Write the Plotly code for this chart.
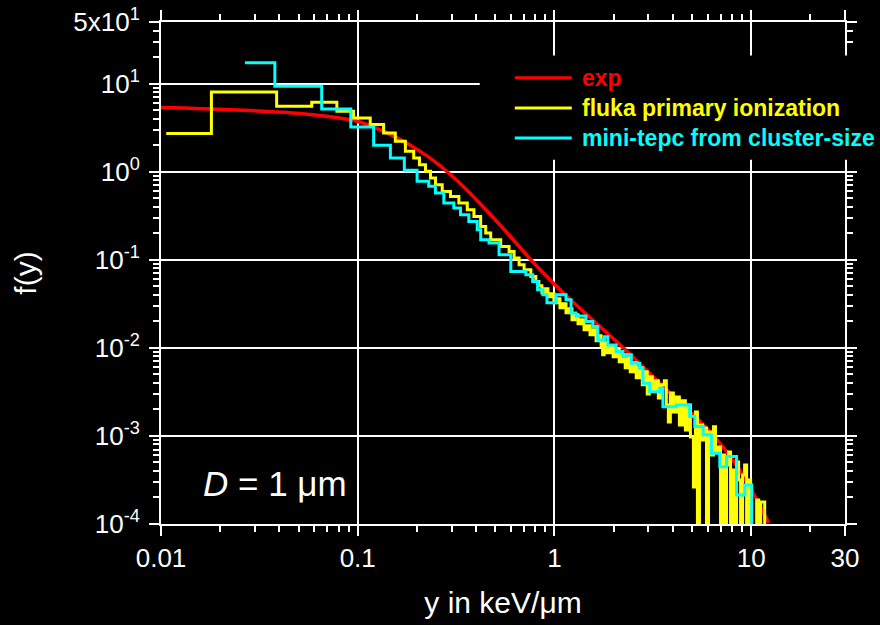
import math
import plotly.graph_objects as go

# ---- measured microdosimetric spectrum (smooth experimental curve) ----
exp_y = [0.01, 0.02236, 0.0509, 0.0994, 0.1354, 0.1647, 0.2012, 0.2428, 0.2861, 0.3620,
         0.4632, 0.5929, 0.7588, 0.994, 1.303, 1.707, 2.236, 3.219, 4.42, 6.07, 8.74, 12.29]
exp_f = [5.34, 5.06, 4.56, 3.73, 2.87, 2.310, 1.778, 1.334, 0.99, 0.608,
         0.342, 0.1874, 0.1, 0.0534, 0.030, 0.01733, 0.01, 0.00456, 0.00231, 0.00117, 0.000411, 0.000103]

# ---- FLUKA primary ionization histogram: left bin edges and bin contents ----
fluka_edges = [
    0.01063, 0.01804, 0.03871, 0.05838, 0.07833, 0.0952, 0.1158, 0.1354, 0.1553, 0.1747,
    0.1926, 0.206, 0.2211, 0.2344, 0.2486, 0.2689, 0.2963, 0.3268, 0.3606, 0.3898,
    0.4217, 0.4473, 0.4742, 0.5333, 0.5879, 0.6235, 0.6612, 0.7012, 0.7588, 0.8045,
    0.8334, 0.8634, 0.8944, 0.9265, 0.9596, 0.994, 1.030, 1.067, 1.105, 1.145,
    1.186, 1.228, 1.272, 1.318, 1.365, 1.414, 1.465, 1.517, 1.572, 1.628,
    1.687, 1.727, 1.758, 1.789, 1.853, 1.919, 1.988, 2.060, 2.134, 2.211,
    2.290, 2.344, 2.428, 2.515, 2.605, 2.699, 2.796, 2.862, 2.964, 3.035,
    3.144, 3.257, 3.374, 3.495, 3.620, 3.706, 3.794, 3.884, 4.023, 4.168,
    4.317, 4.472, 4.632, 4.798, 4.913, 5.089, 5.210, 5.333, 5.461, 5.657,
    5.791, 5.929, 6.070, 6.288, 6.437, 6.590, 6.827, 6.989, 7.156, 7.326,
    7.499, 7.678, 7.860, 8.047, 8.238, 8.433, 8.634, 8.839, 9.049, 9.265,
    9.484, 9.710, 9.940, 10.67, 10.92, 11.18, 11.72,
]
fluka_f = [
    2.703, 8.048, 5.521, 6.132, 4.844, 4.076, 3.421, 2.753, 2.210, 1.701,
    1.431, 1.201, 1.008, 0.848, 0.7115, 0.5972, 0.5239, 0.4408, 0.370, 0.3105,
    0.239, 0.2011, 0.1688, 0.1416, 0.1243, 0.1045, 0.0877, 0.077, 0.0646, 0.0567,
    0.0506, 0.0422, 0.0468, 0.0380, 0.0411, 0.0325, 0.0360, 0.0285, 0.0316, 0.0250,
    0.0277, 0.0208, 0.0237, 0.01874, 0.0208, 0.0160, 0.01778, 0.0141, 0.0160, 0.0120,
    0.0137, 0.01054, 0.00833, 0.0114, 0.00877, 0.01026, 0.0079, 0.00949, 0.00693, 0.00833,
    0.00593, 0.0077, 0.00534, 0.00675, 0.00456, 0.00593, 0.0038, 0.00534, 0.0030, 0.00468,
    0.00333, 0.00422, 0.0027, 0.0038, 0.00422, 0.00225, 0.00144, 0.00308, 0.00187, 0.00277,
    0.00133, 0.0025, 0.00117, 0.00225, 0.000974, 0.000263, 0.00187, 0, 0.00133, 0.0009,
    0.00123, 0, 0.00111, 0.000608, 0.00127, 0.000658, 0.00075, 0, 0.000608, 0,
    0.000468, 0.000658, 0, 0.000411, 0, 0.000506, 0.000316, 0, 0.00036, 0.000468,
    0, 0.000316, 0, 0.000187, 0, 0.000178, 0,
]

# ---- mini-TEPC spectrum derived from cluster-size distribution ----
tepc_edges = [
    0.0267, 0.0379, 0.0656, 0.0922, 0.1205, 0.1466, 0.1726, 0.2004, 0.2296, 0.2483,
    0.274, 0.308, 0.333, 0.367, 0.405, 0.422, 0.465, 0.523, 0.600, 0.716,
    0.775, 0.821, 0.873, 0.916, 1.018, 1.145, 1.214, 1.288, 1.448, 1.566,
    1.661, 1.795, 1.868, 2.06, 2.23, 2.32, 2.46, 2.71, 2.82, 3.05,
    3.43, 3.56, 4.17, 4.87, 5.17, 5.70, 6.28, 6.93, 7.50, 8.43,
    9.29, 10.07,
]
tepc_f = [
    17.2, 9.31, 5.16, 3.22, 1.99, 1.43, 1.035, 0.776, 0.681, 0.573,
    0.440, 0.387, 0.324, 0.272, 0.219, 0.169, 0.155, 0.114, 0.0736, 0.0676,
    0.0566, 0.0456, 0.040, 0.0324, 0.040, 0.0351, 0.0248, 0.023, 0.0199, 0.0175,
    0.0123, 0.0134, 0.0108, 0.00908, 0.00796, 0.00832, 0.0067, 0.00587, 0.00397, 0.00318,
    0.00348, 0.00215, 0.00225, 0.00166, 0.00128, 0.00103, 0.000635, 0.000448, 0.000582, 0.000214,
    0.000277, 0,
]

x_tick_vals = [0.01, 0.1, 1, 10, 30]
x_tick_text = ["0.01", "0.1", "1", "10", "30"]
y_tick_vals = [1e-4, 1e-3, 1e-2, 1e-1, 1, 10, 50]
y_tick_text = ["10<sup>-4</sup>", "10<sup>-3</sup>", "10<sup>-2</sup>", "10<sup>-1</sup>",
               "10<sup>0</sup>", "10<sup>1</sup>", "5x10<sup>1</sup>"]

series_names = ["exp", "fluka primary ionization", "mini-tepc from cluster-size"]
series_colors = ["#ff0000", "#ffff00", "#00ffff"]

X_MIN, X_MAX = 0.01, 30
Y_MIN, Y_MAX = 1e-4, 50
EMPTY_BIN = 1e-7  # empty bins are drawn at a level below the visible range

FONT = "Liberation Sans, Arial, sans-serif"


def floor_empty(vals):
    return [v if v > 0 else EMPTY_BIN for v in vals]


fig = go.Figure()
fig.add_trace(go.Scatter(x=exp_y, y=exp_f, mode="lines", name=series_names[0],
                         line=dict(color=series_colors[0], width=3.5, shape="spline", smoothing=0.8)))
fig.add_trace(go.Scatter(x=fluka_edges, y=floor_empty(fluka_f), mode="lines", name=series_names[1],
                         line=dict(color=series_colors[1], width=3, shape="hv")))
fig.add_trace(go.Scatter(x=tepc_edges, y=floor_empty(tepc_f), mode="lines", name=series_names[2],
                         line=dict(color=series_colors[2], width=3, shape="hv")))

minor_x = [m * 10 ** e for e in range(-2, 2) for m in range(2, 10) if m * 10 ** e < X_MAX]
minor_y = [m * 10 ** e for e in range(-4, 2) for m in range(2, 10) if m * 10 ** e < Y_MAX]

axis_common = dict(
    type="log", showline=True, linecolor="white", linewidth=2, mirror="allticks",
    ticks="outside", ticklen=10, tickwidth=2, tickcolor="white",
    showgrid=True, gridcolor="white", gridwidth=2, zeroline=False,
    tickfont=dict(family=FONT, size=26, color="white"),
)

fig.update_xaxes(
    **axis_common,
    range=[math.log10(X_MIN), math.log10(X_MAX)],
    tickmode="array", tickvals=x_tick_vals, ticktext=x_tick_text,
    minor=dict(tickmode="array", tickvals=minor_x, ticks="outside", ticklen=6,
               tickwidth=2, tickcolor="white", showgrid=False),
    title=dict(text="y in keV/μm", font=dict(family=FONT, size=30, color="white"), standoff=20),
)
fig.update_yaxes(
    **axis_common,
    range=[math.log10(Y_MIN), math.log10(Y_MAX)],
    tickmode="array", tickvals=y_tick_vals, ticktext=y_tick_text,
    ticklabelstandoff=4,
    minor=dict(tickmode="array", tickvals=minor_y, ticks="outside", ticklen=6,
               tickwidth=2, tickcolor="white", showgrid=False),
    title=dict(text="f(y)", font=dict(family=FONT, size=30, color="white"), standoff=28),
)

# hand-built key: a black panel over the upper-right corner with line samples and labels
legend_rows_y = [0.8887, 0.8289, 0.7691]
shapes = [dict(type="rect", xref="paper", yref="paper", x0=0.466, x1=1.06, y0=0.7258, y1=0.9332,
               fillcolor="black", line=dict(width=0), layer="above")]
annotations = []
for name, color, yy in zip(series_names, series_colors, legend_rows_y):
    shapes.append(dict(type="line", xref="paper", yref="paper", x0=0.5172, x1=0.6006, y0=yy, y1=yy,
                       line=dict(color=color, width=3), layer="above"))
    annotations.append(dict(xref="paper", yref="paper", x=0.6123, y=yy, xanchor="left", yanchor="middle",
                            text="<b>%s</b>" % name, showarrow=False,
                            font=dict(family=FONT, size=23, color=color)))

annotations.append(dict(xref="paper", yref="paper", x=0.0588, y=0.0798, xanchor="left", yanchor="middle",
                        text="<i>D</i> = 1 μm", showarrow=False,
                        font=dict(family=FONT, size=35, color="white")))

fig.update_layout(
    width=880, height=625,
    margin=dict(l=161, r=35, t=22, b=101, autoexpand=False),
    paper_bgcolor="black", plot_bgcolor="black",
    showlegend=False,
    shapes=shapes, annotations=annotations,
)

fig.write_html("out.html")
